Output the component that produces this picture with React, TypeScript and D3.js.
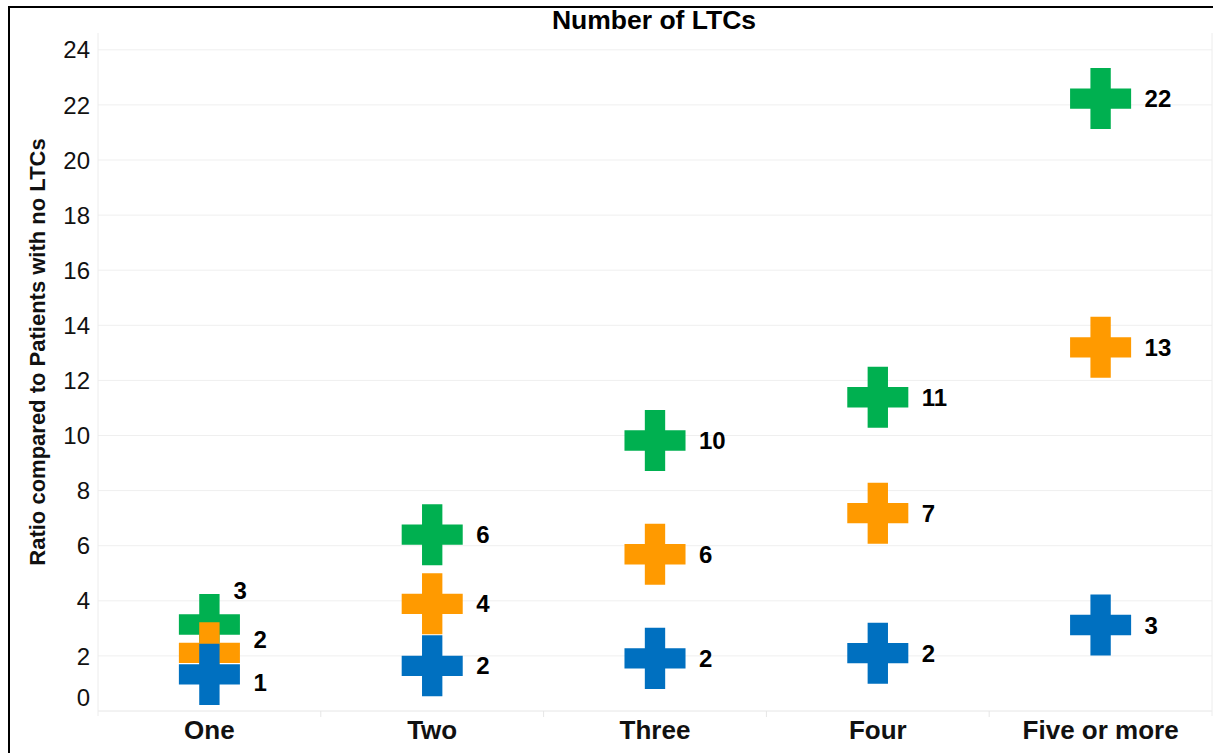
import React from 'react'
import * as d3 from 'd3'

// categories on the x axis
const categories = ['One', 'Two', 'Three', 'Four', 'Five or more']

// ratio values, one array per series
const blueValues = [1.33, 1.64, 1.91, 2.1, 3.12]
const orangeValues = [2.11, 3.89, 5.69, 7.18, 13.2]
const greenValues = [3.14, 6.4, 9.82, 11.39, 22.23]

const yTicks = [0, 2, 4, 6, 8, 10, 12, 14, 16, 18, 20, 22, 24]

// drawn in this order so that blue sits on top
const series = [
  { name: 'green', color: '#00B050', values: greenValues },
  { name: 'orange', color: '#FF9A00', values: orangeValues },
  { name: 'blue', color: '#0070C0', values: blueValues },
]

// labels in the crowded first column are moved out of the way
const labelNudge: Record<string, { dx: number; dy: number }> = {
  'green-One': { dx: -20, dy: -34 },
  'orange-One': { dx: 0, dy: -13 },
  'blue-One': { dx: 0, dy: 8 },
}

const FONT = '"Liberation Sans", Arial, sans-serif'

function App() {
  const width = 1213
  const height = 753
  const plot = { left: 98, right: 1212, top: 33, bottom: 711 }

  const xScale = d3
    .scaleBand()
    .domain(categories)
    .range([plot.left, plot.right])
    .padding(0)

  const yScale = d3
    .scaleLinear()
    .domain([0, 24])
    .range([plot.bottom, 49.8])

  const cross = d3.symbol(d3.symbolCross, 2070)()

  return (
    <svg
      width={width}
      height={height}
      style={{ position: 'absolute', left: 0, top: 0, background: '#fff' }}
      fontFamily={FONT}
    >
      {/* outer black frame */}
      <path d={`M 9 ${height} V 7 H ${width}`} fill="none" stroke="#000" strokeWidth="2" />

      {/* title */}
      <text x={(plot.left + plot.right) / 2 - 1} y={28.5} textAnchor="middle" fontSize="26.5" fontWeight="bold">
        Number of LTCs
      </text>

      {/* grid */}
      {yTicks.map(tick => (
        <line
          key={tick}
          x1={plot.left}
          x2={plot.right}
          y1={yScale(tick)}
          y2={yScale(tick)}
          stroke={tick === 0 ? '#e6e6e6' : '#efefef'}
          strokeWidth="1"
        />
      ))}
      <line x1={plot.left} x2={plot.left} y1={plot.top} y2={plot.bottom + 5} stroke="#ececec" />
      <line x1={plot.right} x2={plot.right} y1={plot.top} y2={plot.bottom + 5} stroke="#ececec" />
      {categories.slice(1).map(c => (
        <line key={c} x1={xScale(c)} x2={xScale(c)} y1={plot.bottom} y2={plot.bottom + 6} stroke="#e6e6e6" />
      ))}

      {/* y axis labels; the 0 is lifted to stay inside the pane */}
      {yTicks.map(tick => (
        <text
          key={tick}
          x={90}
          y={yScale(tick) + 8.6 - (tick === 0 ? 14 : 0)}
          textAnchor="end"
          fontSize="24"
          fill="#111"
        >
          {tick}
        </text>
      ))}

      <text
        transform={`translate(45 352) rotate(-90)`}
        textAnchor="middle"
        fontSize="22"
        fontWeight="bold"
        fill="#111"
      >
        Ratio compared to Patients with no LTCs
      </text>

      {/* x axis labels */}
      {categories.map(c => (
        <text
          key={c}
          x={(xScale(c) ?? 0) + xScale.bandwidth() / 2}
          y={739}
          textAnchor="middle"
          fontSize="26"
          fontWeight="bold"
          fill="#111"
        >
          {c}
        </text>
      ))}

      {/* crosses */}
      {series.map(s => (
        <g key={s.name}>
          {s.values.map((v, i) => {
            const cx = (xScale(categories[i]) ?? 0) + xScale.bandwidth() / 2
            return (
              <path key={i} d={cross ?? ''} transform={`translate(${cx} ${yScale(v)})`} fill={s.color} />
            )
          })}
        </g>
      ))}

      {/* value labels */}
      {series.map(s => (
        <g key={s.name + '-labels'}>
          {s.values.map((v, i) => {
            const cx = (xScale(categories[i]) ?? 0) + xScale.bandwidth() / 2
            const nudge = labelNudge[`${s.name}-${categories[i]}`] ?? { dx: 0, dy: 0 }
            return (
              <text
                key={i}
                x={cx + 44 + nudge.dx}
                y={yScale(v) + 8.6 + nudge.dy}
                fontSize="24"
                fontWeight="bold"
                fill="#000"
              >
                {Math.round(v)}
              </text>
            )
          })}
        </g>
      ))}
    </svg>
  )
}

export default App
